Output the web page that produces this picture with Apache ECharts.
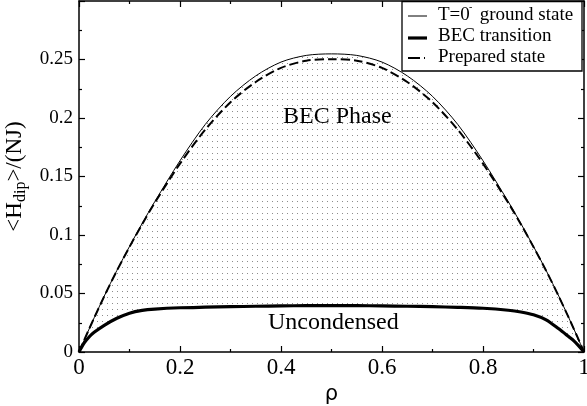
<!DOCTYPE html>
<html>
<head>
<meta charset="utf-8">
<script src="https://cdn.jsdelivr.net/npm/echarts@6/dist/echarts.min.js"></script>
<style>
  html, body { margin: 0; padding: 0; background: #fff; }
  #main { width: 587px; height: 406px; }
</style>
</head>
<body>
<div id="main"></div>
<script>
// values
var rho = [0, 0.01, 0.02, 0.03, 0.05, 0.075, 0.1, 0.125, 0.15, 0.2, 0.25, 0.3, 0.35, 0.4, 0.45, 0.5,
  0.55, 0.6, 0.65, 0.7, 0.75, 0.8, 0.85, 0.875, 0.9, 0.925, 0.95, 0.97, 0.98, 0.99, 1]
var groundState = [0, 0.0099, 0.0196, 0.0292, 0.0478, 0.0697, 0.0902, 0.1098, 0.1285, 0.1635, 0.1945, 0.2185, 0.2360, 0.2478, 0.2535, 0.2548,
  0.2535, 0.2478, 0.2360, 0.2185, 0.1945, 0.1635, 0.1285, 0.1098, 0.0902, 0.0697, 0.0478, 0.0292, 0.0196, 0.0099, 0]
var preparedState = [0, 0.0099, 0.0196, 0.0291, 0.0476, 0.0695, 0.0898, 0.1092, 0.1275, 0.1610, 0.1900, 0.2135, 0.2308, 0.2428, 0.2490, 0.2503,
  0.2490, 0.2428, 0.2308, 0.2135, 0.1900, 0.1610, 0.1275, 0.1092, 0.0898, 0.0695, 0.0476, 0.0291, 0.0196, 0.0099, 0]
var becTransition = [0, 0.0075, 0.0128, 0.0168, 0.0228, 0.0288, 0.0332, 0.0356, 0.0367, 0.0378, 0.0383, 0.0387, 0.0391, 0.0394, 0.0396, 0.0397,
  0.0396, 0.0394, 0.0391, 0.0387, 0.0382, 0.0374, 0.0357, 0.0342, 0.0318, 0.0275, 0.0198, 0.0130, 0.0095, 0.0050, 0]
var xTicks = [0, 0.2, 0.4, 0.6, 0.8, 1]
var yTicks = [0, 0.05, 0.1, 0.15, 0.2, 0.25]

function pairs(ys) {
  return rho.map(function (r, i) { return [r, ys[i]] })
}

// dotted fill pattern
var dots = document.createElement('canvas')
dots.width = 5
dots.height = 6
var ctx = dots.getContext('2d')
ctx.fillStyle = '#8c8c8c'
ctx.fillRect(2, 3, 1, 1)

var serif = 'Liberation Serif'
var chart = echarts.init(document.getElementById('main'))

function axisStyle() {
  return {
    axisLine: { onZero: false, lineStyle: { color: '#000', width: 1.5 } },
    axisTick: { show: true, inside: true, length: 6, lineStyle: { color: '#000', width: 1.2 } },
    minorTick: { show: true, splitNumber: 2, length: 3, lineStyle: { color: '#000', width: 1.2 } },
    splitLine: { show: false }
  }
}

var option = {
  animation: false,
  grid: { left: 79, right: 3, top: 1, bottom: 54, outerBoundsMode: 'none', containLabel: false },
  xAxis: [
    Object.assign({
      type: 'value', min: 0, max: 1, interval: 0.2,
      name: 'ρ', nameLocation: 'middle', nameGap: 24,
      nameTextStyle: { fontFamily: 'DejaVu Sans', fontSize: 21, color: '#000' },
      axisLabel: {
        color: '#000', fontFamily: serif, fontSize: 23, margin: 4,
        showMaxLabel: true, showMinLabel: true,
        formatter: function (v) { return xTicks.indexOf(+v.toFixed(2)) >= 0 ? String(+v.toFixed(2)) : '' }
      }
    }, axisStyle()),
    Object.assign({
      type: 'value', min: 0, max: 1, interval: 0.2, position: 'top',
      axisLabel: { show: false }
    }, axisStyle())
  ],
  yAxis: [
    Object.assign({
      type: 'value', min: 0, max: 0.3, interval: 0.05,
      name: '<H{sub|dip}>/(NJ)', nameLocation: 'middle', nameGap: 40, nameRotate: 90,
      nameTextStyle: {
        fontFamily: serif, fontSize: 23, color: '#000',
        rich: { sub: { fontFamily: serif, fontSize: 16, padding: [12, 0, 0, 0], color: '#000' } }
      },
      axisLabel: {
        color: '#000', fontFamily: serif, fontSize: 19, margin: 6,
        formatter: function (v) {
          var t = +v.toFixed(3)
          return yTicks.indexOf(t) >= 0 ? String(t) : ''
        }
      }
    }, axisStyle()),
    Object.assign({
      type: 'value', min: 0, max: 0.3, interval: 0.05, position: 'right',
      axisLabel: { show: false }
    }, axisStyle())
  ],
  series: [
    {
      // dotted region under the ground state curve (kept below the axes)
      name: 'phaseFill', type: 'line', data: pairs(groundState),
      smooth: 0.3, showSymbol: false, silent: true, z: -2,
      lineStyle: { width: 0, opacity: 0 },
      areaStyle: { color: { image: dots, repeat: 'repeat' }, opacity: 1 }
    },
    {
      // blank out below the BEC transition curve
      name: 'uncondensedFill', type: 'line', data: pairs(becTransition),
      smooth: 0.3, showSymbol: false, silent: true, z: -1,
      lineStyle: { width: 0, opacity: 0 },
      areaStyle: { color: '#fff', opacity: 1 }
    },
    {
      name: 'T=0- ground state', type: 'line', data: pairs(groundState),
      smooth: 0.3, showSymbol: false, z: 3,
      lineStyle: { color: '#000', width: 1 }
    },
    {
      name: 'BEC transition', type: 'line', data: pairs(becTransition),
      smooth: 0.3, showSymbol: false, z: 3,
      lineStyle: { color: '#000', width: 3.2 }
    },
    {
      name: 'Prepared state', type: 'line', data: pairs(preparedState),
      smooth: 0.3, showSymbol: false, z: 3,
      lineStyle: { color: '#000', width: 2, type: [9, 4] }
    }
  ],
  graphic: [
    { type: 'text', left: 283, top: 105, style: { text: 'BEC Phase', font: '24px "Liberation Serif"', fill: '#000' }, z: 10 },
    { type: 'text', left: 268, top: 311, style: { text: 'Uncondensed', font: '24px "Liberation Serif"', fill: '#000' }, z: 10 },
    // legend box
    { type: 'rect', shape: { x: 402, y: 1.5, width: 180, height: 69.5 }, style: { fill: '#fff', stroke: '#000', lineWidth: 1.3 }, z: 10 },
    { type: 'line', shape: { x1: 408, y1: 16, x2: 427, y2: 16 }, style: { stroke: '#000', lineWidth: 1 }, z: 11 },
    { type: 'line', shape: { x1: 408, y1: 38, x2: 427, y2: 38 }, style: { stroke: '#000', lineWidth: 3.2 }, z: 11 },
    { type: 'line', shape: { x1: 408, y1: 58, x2: 427, y2: 58 }, style: { stroke: '#000', lineWidth: 2, lineDash: [12, 4, 1, 4] }, z: 11 },
    { type: 'text', x: 438, y: 15, style: { text: 'T=0', font: '19px "Liberation Serif"', fill: '#000', textVerticalAlign: 'middle' }, z: 11 },
    { type: 'text', x: 469, y: 7, style: { text: '-', font: '10px "Liberation Serif"', fill: '#000', textVerticalAlign: 'middle' }, z: 11 },
    { type: 'text', x: 475, y: 15, style: { text: ' ground state', font: '19px "Liberation Serif"', fill: '#000', textVerticalAlign: 'middle' }, z: 11 },
    { type: 'text', x: 438, y: 36.5, style: { text: 'BEC transition', font: '19px "Liberation Serif"', fill: '#000', textVerticalAlign: 'middle' }, z: 11 },
    { type: 'text', x: 438, y: 57, style: { text: 'Prepared state', font: '19px "Liberation Serif"', fill: '#000', textVerticalAlign: 'middle' }, z: 11 }
  ]
}

chart.setOption(option)
</script>
</body>
</html>
